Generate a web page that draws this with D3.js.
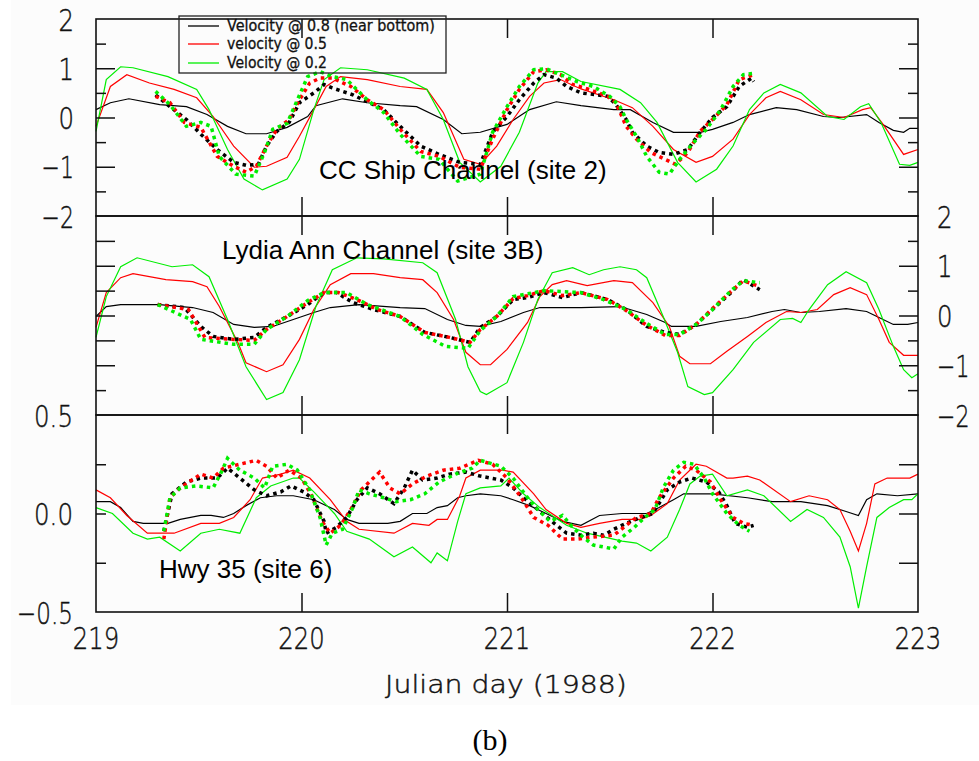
<!DOCTYPE html>
<html>
<head>
<meta charset="utf-8">
<script src="https://cdnjs.cloudflare.com/ajax/libs/d3/7.8.5/d3.min.js"></script>
<style>
  body { margin: 0; background: #fff; }
  svg { display: block; }
  .tick-lbl { font-family: "DejaVu Sans", sans-serif; font-weight: 200; fill: #111; stroke: #111; stroke-width: 0.45; }
  .legend-lbl { font-family: "DejaVu Sans", sans-serif; fill: #111; stroke: #111; stroke-width: 0.3; }
  .title { font-family: "Liberation Sans", Arial, sans-serif; font-size: 26px; fill: #000; }
</style>
</head>
<body>
<script>
// ---- data: [Julian day, velocity] ----
// CC Ship Channel (site 2)
var ccModel08 = [[219.00,0.16],[219.07,0.30],[219.16,0.38],[219.31,0.26],[219.44,0.22],[219.54,0.06],[219.64,-0.18],[219.73,-0.33],[219.83,-0.33],[219.93,-0.20],[220.03,0.02],[220.07,0.24],[220.20,0.38],[220.32,0.30],[220.48,0.24],[220.56,0.22],[220.69,-0.04],[220.78,-0.33],[220.87,-0.30],[221.00,-0.14],[221.11,0.16],[221.24,0.32],[221.36,0.24],[221.52,0.16],[221.60,0.16],[221.71,-0.10],[221.81,-0.30],[221.94,-0.30],[222.00,-0.24],[222.10,-0.10],[222.18,0.06],[222.31,0.20],[222.41,0.16],[222.54,0.02],[222.62,0.00],[222.75,0.06],[222.81,-0.10],[222.88,-0.26],[222.93,-0.30],[222.96,-0.22],[223.00,-0.22]];
var ccModel05 = [[219.00,-0.18],[219.07,0.63],[219.15,0.87],[219.26,0.70],[219.38,0.57],[219.49,0.40],[219.57,0.02],[219.67,-0.58],[219.77,-1.01],[219.83,-0.99],[219.93,-0.81],[219.99,-0.38],[220.06,0.16],[220.12,0.63],[220.19,0.83],[220.32,0.77],[220.48,0.63],[220.61,0.57],[220.69,0.10],[220.79,-0.85],[220.87,-0.95],[220.95,-0.58],[221.03,-0.04],[221.11,0.43],[221.18,0.70],[221.26,0.77],[221.36,0.58],[221.52,0.36],[221.61,0.20],[221.71,-0.18],[221.81,-0.65],[221.92,-0.91],[222.00,-0.79],[222.10,-0.44],[222.18,0.06],[222.26,0.40],[222.33,0.53],[222.43,0.36],[222.54,0.06],[222.64,0.00],[222.73,0.16],[222.77,0.20],[222.83,-0.14],[222.93,-0.75],[223.00,-0.65]];
var ccModel02 = [[219.00,-0.28],[219.05,0.77],[219.12,1.03],[219.18,1.01],[219.35,0.83],[219.49,0.57],[219.55,0.16],[219.64,-0.65],[219.72,-1.25],[219.81,-1.47],[219.93,-1.25],[219.99,-0.85],[220.06,0.16],[220.11,0.77],[220.19,1.01],[220.32,0.97],[220.50,0.80],[220.61,0.57],[220.69,-0.04],[220.77,-0.91],[220.87,-1.31],[220.97,-0.99],[221.06,-0.30],[221.15,0.70],[221.19,0.93],[221.27,0.93],[221.36,0.73],[221.55,0.57],[221.65,0.30],[221.73,-0.10],[221.83,-0.91],[221.92,-1.31],[222.02,-1.05],[222.10,-0.58],[222.18,0.16],[222.25,0.50],[222.33,0.67],[222.43,0.50],[222.56,0.02],[222.64,-0.04],[222.72,0.22],[222.76,0.28],[222.82,-0.10],[222.91,-0.95],[222.96,-0.97],[223.00,-0.91]];
var ccObs08 = [[219.29,0.46],[219.36,0.22],[219.44,-0.04],[219.51,-0.34],[219.59,-0.65],[219.67,-0.91],[219.73,-0.97],[219.79,-0.95],[219.83,-0.58],[219.88,-0.28],[219.94,-0.10],[219.99,0.30],[220.06,0.50],[220.11,0.67],[220.15,0.60],[220.25,0.46],[220.32,0.32],[220.40,0.16],[220.48,-0.18],[220.58,-0.58],[220.67,-0.75],[220.77,-0.91],[220.87,-0.95],[220.93,-0.30],[221.00,0.02],[221.06,0.36],[221.13,0.70],[221.18,0.87],[221.24,0.80],[221.29,0.63],[221.36,0.50],[221.49,0.43],[221.53,0.26],[221.58,-0.04],[221.61,-0.30],[221.68,-0.58],[221.74,-0.71],[221.81,-0.75],[221.88,-0.65],[221.94,-0.30],[222.00,0.00],[222.07,0.22],[222.13,0.63],[222.19,0.80],[222.20,0.73]];
var ccObs05 = [[219.29,0.43],[219.36,0.30],[219.43,-0.10],[219.51,-0.20],[219.59,-0.79],[219.67,-0.99],[219.73,-1.11],[219.78,-0.99],[219.83,-0.58],[219.88,-0.24],[219.94,-0.04],[219.99,0.36],[220.04,0.70],[220.09,0.80],[220.15,0.80],[220.24,0.63],[220.32,0.36],[220.40,0.16],[220.48,-0.24],[220.58,-0.69],[220.67,-0.79],[220.77,-1.01],[220.87,-1.05],[220.93,-0.44],[221.00,0.16],[221.06,0.57],[221.13,0.93],[221.19,0.97],[221.26,0.87],[221.32,0.67],[221.40,0.57],[221.49,0.43],[221.53,0.30],[221.58,-0.18],[221.63,-0.44],[221.70,-0.71],[221.77,-0.85],[221.82,-0.95],[221.88,-0.71],[221.94,-0.28],[222.00,-0.04],[222.07,0.26],[222.13,0.77],[222.20,0.87]];
var ccObs02 = [[219.29,0.53],[219.36,0.26],[219.44,-0.18],[219.51,-0.10],[219.56,-0.18],[219.60,-0.79],[219.68,-1.15],[219.77,-1.19],[219.82,-0.71],[219.86,-0.24],[219.93,-0.12],[219.98,0.36],[220.03,0.83],[220.09,0.93],[220.15,0.83],[220.22,0.77],[220.32,0.36],[220.40,0.10],[220.48,-0.34],[220.58,-0.79],[220.67,-0.85],[220.76,-1.29],[220.87,-1.15],[220.93,-0.30],[221.00,0.22],[221.06,0.63],[221.13,0.97],[221.19,0.99],[221.26,0.87],[221.34,0.73],[221.42,0.63],[221.50,0.43],[221.55,0.22],[221.58,-0.04],[221.63,-0.38],[221.68,-0.79],[221.74,-1.11],[221.79,-1.15],[221.84,-0.85],[221.91,-0.50],[221.97,-0.24],[222.04,0.16],[222.10,0.63],[222.15,0.87],[222.21,0.90]];

// Lydia Ann Channel (site 3B)
var laModel08 = [[219.00,-0.02],[219.05,0.18],[219.12,0.22],[219.31,0.22],[219.47,0.16],[219.57,0.06],[219.67,-0.18],[219.77,-0.24],[219.86,-0.22],[219.96,-0.08],[220.06,0.06],[220.14,0.16],[220.28,0.22],[220.48,0.16],[220.60,0.14],[220.71,-0.08],[220.80,-0.20],[220.87,-0.22],[220.97,-0.12],[221.08,0.06],[221.16,0.16],[221.36,0.16],[221.55,0.18],[221.68,0.02],[221.77,-0.14],[221.80,-0.22],[221.92,-0.22],[222.04,-0.12],[222.17,-0.04],[222.29,0.08],[222.35,0.12],[222.43,0.06],[222.52,0.08],[222.65,0.14],[222.75,0.08],[222.81,-0.04],[222.88,-0.18],[222.95,-0.18],[223.00,-0.14]];
var laModel05 = [[219.00,-0.24],[219.05,0.46],[219.12,0.76],[219.18,0.84],[219.34,0.72],[219.47,0.68],[219.54,0.58],[219.60,0.18],[219.69,-0.54],[219.73,-0.95],[219.83,-1.13],[219.91,-0.99],[219.99,-0.48],[220.06,0.12],[220.14,0.62],[220.24,0.84],[220.35,0.84],[220.48,0.76],[220.59,0.72],[220.66,0.46],[220.74,-0.08],[220.80,-0.74],[220.87,-0.99],[220.92,-0.99],[221.00,-0.68],[221.10,-0.14],[221.16,0.38],[221.22,0.62],[221.29,0.70],[221.39,0.60],[221.52,0.70],[221.61,0.66],[221.71,0.26],[221.79,-0.22],[221.84,-0.82],[221.89,-0.97],[221.99,-0.97],[222.07,-0.72],[222.17,-0.42],[222.26,-0.14],[222.36,0.08],[222.43,0.06],[222.51,0.12],[222.59,0.42],[222.67,0.56],[222.75,0.42],[222.81,-0.08],[222.86,-0.54],[222.93,-0.80],[223.00,-0.80]];
var laModel02 = [[219.00,-0.44],[219.05,0.38],[219.12,0.98],[219.20,1.16],[219.37,0.98],[219.47,1.02],[219.55,0.78],[219.64,-0.08],[219.73,-1.03],[219.83,-1.69],[219.91,-1.55],[219.99,-0.89],[220.07,0.18],[220.15,0.92],[220.27,1.16],[220.40,1.14],[220.59,1.06],[220.66,0.86],[220.75,-0.08],[220.81,-1.03],[220.87,-1.53],[220.90,-1.59],[221.00,-1.35],[221.08,-0.54],[221.15,0.32],[221.22,0.86],[221.32,0.96],[221.40,0.82],[221.47,0.92],[221.55,0.98],[221.63,0.92],[221.68,0.76],[221.76,-0.02],[221.83,-0.74],[221.88,-1.43],[221.96,-1.59],[222.00,-1.55],[222.10,-1.09],[222.20,-0.54],[222.33,-0.08],[222.39,-0.06],[222.43,-0.14],[222.47,0.12],[222.56,0.62],[222.65,0.88],[222.75,0.66],[222.81,0.12],[222.88,-0.62],[222.93,-1.09],[222.97,-1.25],[223.00,-1.17]];
var laObs08 = [[219.30,0.22],[219.43,0.16],[219.51,-0.22],[219.57,-0.42],[219.67,-0.48],[219.77,-0.44],[219.83,-0.24],[219.93,-0.02],[220.03,0.22],[220.11,0.46],[220.17,0.46],[220.25,0.26],[220.35,0.12],[220.48,-0.02],[220.60,-0.34],[220.72,-0.44],[220.82,-0.54],[220.87,-0.24],[220.95,-0.02],[221.03,0.32],[221.10,0.36],[221.18,0.46],[221.27,0.36],[221.36,0.46],[221.49,0.32],[221.58,0.12],[221.68,-0.22],[221.77,-0.34],[221.84,-0.38],[221.92,-0.18],[222.00,0.12],[222.09,0.46],[222.15,0.72],[222.23,0.52]];
var laObs05 = [[219.30,0.22],[219.45,0.12],[219.53,-0.44],[219.67,-0.48],[219.77,-0.50],[219.83,-0.28],[219.93,-0.02],[220.03,0.26],[220.11,0.46],[220.18,0.46],[220.27,0.32],[220.37,0.12],[220.48,-0.02],[220.60,-0.34],[220.72,-0.44],[220.82,-0.54],[220.87,-0.28],[220.95,-0.02],[221.03,0.34],[221.10,0.40],[221.18,0.50],[221.27,0.40],[221.36,0.46],[221.49,0.32],[221.58,0.10],[221.68,-0.20],[221.77,-0.40],[221.84,-0.40],[221.92,-0.18],[222.00,0.14],[222.09,0.48],[222.15,0.70],[222.23,0.58]];
var laObs02 = [[219.30,0.22],[219.46,-0.08],[219.51,-0.48],[219.67,-0.58],[219.77,-0.58],[219.83,-0.28],[219.93,-0.02],[220.03,0.30],[220.11,0.46],[220.22,0.46],[220.32,0.22],[220.48,-0.02],[220.59,-0.38],[220.70,-0.62],[220.81,-0.66],[220.87,-0.30],[220.95,-0.02],[221.03,0.38],[221.18,0.50],[221.36,0.46],[221.47,0.32],[221.58,0.12],[221.68,-0.16],[221.77,-0.38],[221.84,-0.38],[221.92,-0.18],[222.00,0.12],[222.09,0.50],[222.15,0.70],[222.23,0.66]];

// Hwy 35 (site 6)
var hwModel08 = [[219.00,0.06],[219.07,0.06],[219.12,0.03],[219.18,-0.04],[219.23,-0.05],[219.35,-0.05],[219.41,-0.03],[219.51,-0.01],[219.56,-0.01],[219.62,-0.02],[219.67,0.00],[219.73,0.04],[219.80,0.08],[219.88,0.09],[219.96,0.09],[220.06,0.07],[220.16,0.02],[220.22,-0.03],[220.28,-0.05],[220.42,-0.05],[220.48,-0.04],[220.54,0.00],[220.61,0.00],[220.66,0.03],[220.71,0.04],[220.76,0.08],[220.80,0.09],[220.87,0.10],[220.97,0.09],[221.03,0.07],[221.11,0.04],[221.19,0.00],[221.27,-0.04],[221.36,-0.06],[221.45,-0.01],[221.56,0.00],[221.68,0.00],[221.74,0.03],[221.81,0.07],[221.86,0.10],[222.00,0.10],[222.17,0.08],[222.29,0.06],[222.43,0.06],[222.56,0.04],[222.65,0.01],[222.71,-0.01],[222.75,0.07],[222.80,0.10],[222.90,0.09],[223.00,0.10]];
var hwModel05 = [[219.00,0.12],[219.07,0.08],[219.15,-0.01],[219.25,-0.10],[219.38,-0.10],[219.51,-0.05],[219.60,-0.05],[219.67,-0.02],[219.75,0.07],[219.81,0.18],[219.90,0.20],[219.96,0.22],[220.04,0.18],[220.14,0.07],[220.22,-0.04],[220.28,-0.08],[220.45,-0.10],[220.54,-0.05],[220.62,-0.06],[220.66,-0.03],[220.71,-0.03],[220.77,0.09],[220.80,0.18],[220.87,0.22],[220.98,0.22],[221.03,0.21],[221.13,0.10],[221.19,0.02],[221.29,-0.05],[221.36,-0.07],[221.45,-0.05],[221.56,-0.03],[221.65,-0.03],[221.70,-0.01],[221.78,0.05],[221.84,0.17],[221.92,0.25],[221.97,0.24],[222.07,0.18],[222.10,0.18],[222.17,0.19],[222.23,0.17],[222.38,0.06],[222.47,0.09],[222.56,0.07],[222.62,0.02],[222.67,-0.09],[222.71,-0.19],[222.75,-0.05],[222.79,0.15],[222.85,0.18],[222.96,0.18],[223.00,0.20]];
var hwModel02 = [[219.00,0.03],[219.08,0.00],[219.18,-0.10],[219.25,-0.13],[219.31,-0.12],[219.41,-0.19],[219.51,-0.10],[219.60,-0.08],[219.70,-0.10],[219.78,0.08],[219.85,0.14],[219.96,0.18],[219.99,0.18],[220.06,0.11],[220.16,0.00],[220.22,-0.09],[220.33,-0.13],[220.45,-0.22],[220.54,-0.17],[220.63,-0.25],[220.66,-0.20],[220.71,-0.24],[220.76,-0.04],[220.80,0.10],[220.87,0.13],[220.97,0.14],[221.01,0.18],[221.08,0.10],[221.16,0.03],[221.29,-0.06],[221.39,-0.10],[221.56,-0.14],[221.63,-0.15],[221.70,-0.19],[221.78,-0.12],[221.84,0.02],[221.89,0.15],[221.94,0.19],[222.00,0.20],[222.07,0.09],[222.17,0.12],[222.25,0.09],[222.38,-0.04],[222.46,0.02],[222.54,-0.02],[222.62,-0.12],[222.67,-0.27],[222.71,-0.48],[222.75,-0.27],[222.80,-0.02],[222.86,0.03],[222.93,0.07],[222.97,0.07],[223.00,0.10]];
var hwObs08 = [[219.33,-0.09],[219.37,0.10],[219.44,0.16],[219.51,0.18],[219.59,0.18],[219.64,0.23],[219.70,0.18],[219.77,0.12],[219.83,0.09],[219.90,0.11],[219.95,0.14],[220.01,0.11],[220.06,0.07],[220.11,-0.04],[220.12,-0.10],[220.17,-0.07],[220.22,-0.02],[220.27,0.07],[220.32,0.13],[220.38,0.10],[220.45,0.05],[220.50,0.13],[220.54,0.22],[220.59,0.17],[220.66,0.18],[220.72,0.20],[220.80,0.21],[220.87,0.19],[220.97,0.17],[221.03,0.13],[221.08,0.08],[221.15,0.02],[221.23,-0.05],[221.29,-0.10],[221.36,-0.11],[221.42,-0.10],[221.47,-0.11],[221.52,-0.08],[221.58,-0.05],[221.65,-0.02],[221.71,0.00],[221.78,0.12],[221.84,0.16],[221.90,0.18],[221.97,0.16],[222.03,0.11],[222.07,0.04],[222.11,-0.05],[222.17,-0.07],[222.20,-0.06]];
var hwObs05 = [[219.33,-0.13],[219.36,0.08],[219.41,0.13],[219.51,0.20],[219.57,0.18],[219.62,0.23],[219.70,0.25],[219.78,0.27],[219.83,0.24],[219.88,0.18],[219.94,0.22],[220.00,0.18],[220.05,0.09],[220.10,-0.04],[220.14,-0.10],[220.19,-0.06],[220.24,0.02],[220.29,0.12],[220.34,0.17],[220.38,0.21],[220.43,0.13],[220.48,0.10],[220.54,0.15],[220.61,0.19],[220.69,0.22],[220.77,0.23],[220.86,0.27],[220.93,0.25],[221.00,0.18],[221.07,0.08],[221.13,-0.02],[221.20,-0.06],[221.27,-0.13],[221.34,-0.13],[221.42,-0.12],[221.52,-0.11],[221.58,-0.06],[221.63,-0.02],[221.70,0.00],[221.74,0.08],[221.81,0.18],[221.87,0.24],[221.92,0.22],[221.99,0.16],[222.04,0.07],[222.10,-0.02],[222.15,-0.05],[222.20,-0.06]];
var hwObs02 = [[219.33,-0.09],[219.36,0.08],[219.41,0.13],[219.49,0.14],[219.57,0.13],[219.61,0.21],[219.64,0.28],[219.70,0.22],[219.77,0.18],[219.82,0.13],[219.86,0.24],[219.93,0.25],[219.98,0.22],[220.04,0.12],[220.09,-0.02],[220.12,-0.16],[220.15,-0.10],[220.20,-0.08],[220.25,0.03],[220.28,0.12],[220.33,0.10],[220.40,0.08],[220.46,0.06],[220.53,0.07],[220.60,0.10],[220.67,0.16],[220.75,0.20],[220.83,0.23],[220.87,0.27],[220.97,0.24],[221.03,0.18],[221.10,0.08],[221.15,0.02],[221.21,-0.04],[221.27,-0.01],[221.32,-0.07],[221.37,-0.12],[221.42,-0.16],[221.52,-0.18],[221.56,-0.12],[221.62,-0.07],[221.67,-0.02],[221.72,0.02],[221.76,0.13],[221.81,0.22],[221.86,0.26],[221.91,0.25],[221.96,0.18],[222.00,0.10],[222.07,0.00],[222.13,-0.06],[222.18,-0.09]];

var dayTicks = [219, 220, 221, 222, 223];
var velTicks = [2, 1, 0, -1, -2];
var hwyTicks = [0.5, 0.0, -0.5];
var legendLabels = ["Velocity @ 0.8 (near bottom)", "velocity @ 0.5", "Velocity @ 0.2"];
var seriesColors = ["#000000", "#ff0000", "#00ee00"];

var svgWidth = 979;
var svgHeight = 761;

var svg = d3.select("body").append("svg")
  .attr("width", svgWidth)
  .attr("height", svgHeight);

// faint grey backdrop of the original plot image
svg.append("rect")
  .attr("x", 11).attr("y", 0)
  .attr("width", 968).attr("height", 705)
  .attr("fill", "#fcfcfc");

var x = d3.scaleLinear().domain([219, 223]).range([96, 918]);

var panels = [
  { top: 19, bottom: 216, domain: [-2, 2], title: "CC Ship Channel (site 2)", tx: 319, ty: 179,
    model: [ccModel08, ccModel05, ccModel02], obs: [ccObs08, ccObs05, ccObs02],
    leftLong: [1, 0, -1], leftShort: [1.5, 0.5, -0.5, -1.5],
    rightLong: [1, 0, -1], rightShort: [1.5, 0.5, -0.5, -1.5] },
  { top: 216, bottom: 415, domain: [-2, 2], title: "Lydia Ann Channel (site 3B)", tx: 222, ty: 259,
    model: [laModel08, laModel05, laModel02], obs: [laObs08, laObs05, laObs02],
    leftLong: [1.5, 1, 0.5, 0, -0.5, -1], leftShort: [-1.5],
    rightLong: [1, 0, -1], rightShort: [1.5, 0.5, -0.5, -1.5] },
  { top: 415, bottom: 612, domain: [-0.5, 0.5], title: "Hwy 35 (site 6)", tx: 159, ty: 578,
    model: [hwModel08, hwModel05, hwModel02], obs: [hwObs08, hwObs05, hwObs02],
    leftLong: [], leftShort: [0.25, 0, -0.25],
    rightLong: [0.25, 0, -0.25], rightShort: [] }
];

// rough advance widths of the plotter digits
function labelWidth(s) {
  var w = 0;
  for (var i = 0; i < s.length; i++) {
    var c = s[i];
    if (c === ".") w += 8;
    else if (c === "\u2212") w += 17;
    else w += 15.5;
  }
  return w;
}

// text squeezed horizontally to a given width (plotter fonts are narrow)
function narrowText(parent, txt, xp, yp, anchor, size, width, cls) {
  var t = parent.append("text")
    .attr("class", cls)
    .attr("text-anchor", anchor)
    .attr("font-size", size)
    .text(txt);
  var natural = t.node().getComputedTextLength();
  var sx = width / natural;
  t.attr("transform", `translate(${xp},${yp}) scale(${sx},1)`);
  return t;
}

function tickLabel(txt, xp, yp, anchor) {
  narrowText(svg, txt, xp, yp, anchor, 31, labelWidth(txt), "tick-lbl");
}

// inward tick marks: len is how far into the panel they reach
function tickLines(g, axis, values, len) {
  g.append("g").call(axis.tickValues(values).tickSize(-len).tickFormat(""))
    .call(a => a.select(".domain").remove())
    .call(a => a.selectAll("line").attr("stroke", "#111").attr("stroke-width", 1.5));
}

panels.forEach(function(p) {
  var y = d3.scaleLinear().domain(p.domain).range([p.bottom, p.top]);
  var g = svg.append("g");

  var line = d3.line().x(d => x(d[0])).y(d => y(d[1]));

  // model lines
  p.model.forEach(function(s, i) {
    g.append("path")
      .datum(s)
      .attr("d", line)
      .attr("fill", "none")
      .attr("stroke", seriesColors[i])
      .attr("stroke-width", 1.2);
  });

  // observed (thick dotted)
  p.obs.forEach(function(s, i) {
    g.append("path")
      .datum(s)
      .attr("d", line)
      .attr("fill", "none")
      .attr("stroke", seriesColors[i])
      .attr("stroke-width", 3.5)
      .attr("stroke-dasharray", "3.5,4");
  });

  var axTop = svg.append("g").attr("transform", `translate(0,${p.top})`);
  tickLines(axTop, d3.axisTop(x), [220, 221, 222], 19);
  var axBot = svg.append("g").attr("transform", `translate(0,${p.bottom})`);
  tickLines(axBot, d3.axisBottom(x), [220, 221, 222], 19);

  var axL = svg.append("g").attr("transform", `translate(${x(219)},0)`);
  tickLines(axL, d3.axisLeft(y), p.leftLong, 19);
  tickLines(axL, d3.axisLeft(y), p.leftShort, 10);
  var axR = svg.append("g").attr("transform", `translate(${x(223)},0)`);
  tickLines(axR, d3.axisRight(y), p.rightLong, 19);
  tickLines(axR, d3.axisRight(y), p.rightShort, 10);

  // frame
  svg.append("rect")
    .attr("x", x(219)).attr("y", p.top)
    .attr("width", x(223) - x(219)).attr("height", p.bottom - p.top)
    .attr("fill", "none")
    .attr("stroke", "#111")
    .attr("stroke-width", 1.6);

  svg.append("text")
    .attr("class", "title")
    .attr("x", p.tx)
    .attr("y", p.ty)
    .text(p.title);

  p.y = y;
});

var fmtInt = d3.format("d");
var fmtDec = d3.format(".1f");

// left labels: top panel
velTicks.forEach(function(v) {
  tickLabel(fmtInt(v), 74, panels[0].y(v) + 11.5, "end");
});
// left labels: bottom panel
hwyTicks.forEach(function(v) {
  tickLabel(fmtDec(v), 73, panels[2].y(v) + 11.5, "end");
});
// right labels: middle panel
velTicks.forEach(function(v) {
  tickLabel(fmtInt(v), 937, panels[1].y(v) + 11.5, "start");
});
// bottom day labels
dayTicks.forEach(function(d) {
  tickLabel(fmtInt(d), x(d), 649, "middle");
});

// x-axis title
narrowText(svg, "Julian day (1988)", 506, 693, "middle", 25, 242, "tick-lbl");

// legend box (transparent, drawn over the top frame)
var legend = svg.append("g");
legend.append("rect")
  .attr("x", 179).attr("y", 16)
  .attr("width", 267).attr("height", 57)
  .attr("fill", "none")
  .attr("stroke", "#222")
  .attr("stroke-width", 1.3);

var legendRows = [26, 44, 63];
var legendWidths = [208, 100, 100];
legendLabels.forEach(function(lbl, i) {
  legend.append("line")
    .attr("x1", 188).attr("x2", 219)
    .attr("y1", legendRows[i]).attr("y2", legendRows[i])
    .attr("stroke", seriesColors[i])
    .attr("stroke-width", 1.3);
  narrowText(legend, lbl, 227, legendRows[i] + 5, "start", 15, legendWidths[i], "legend-lbl");
});

// caption
svg.append("text")
  .attr("x", 490)
  .attr("y", 750)
  .attr("text-anchor", "middle")
  .attr("font-family", "Liberation Serif, Times New Roman, serif")
  .attr("font-size", 30)
  .attr("fill", "#000")
  .text("(b)");
</script>
</body>
</html>
